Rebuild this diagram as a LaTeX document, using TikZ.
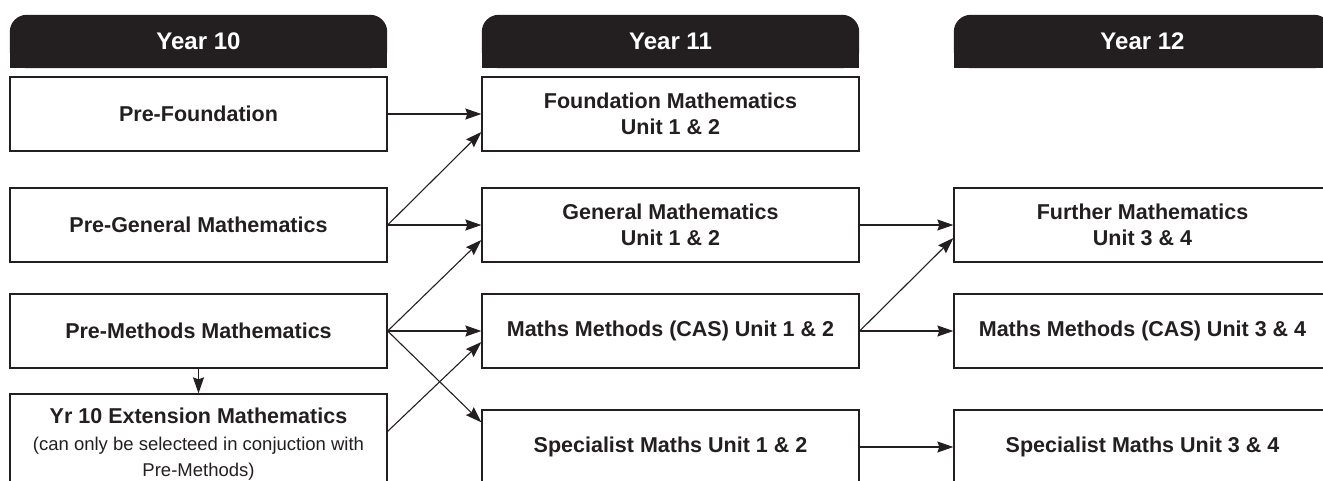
\documentclass[tikz,border=0pt]{standalone}
\usepackage{fontspec}
\setmainfont{Liberation Sans}
\usetikzlibrary{arrows.meta,backgrounds}
\definecolor{ink}{HTML}{231F20}
\newcommand{\notefont}{\fontsize{18.5}{22}\selectfont\mdseries}

\begin{document}
\begin{tikzpicture}[x=1pt,y=-1pt,
  course/.style={draw=ink,line width=1.3pt,minimum width=377pt,minimum height=74pt,
    align=center,font=\fontsize{21.5}{26}\selectfont\bfseries,text=ink,inner sep=0pt},
  yearhead/.style={minimum width=377pt,minimum height=53pt,inner sep=0pt,
    font=\fontsize{24}{28}\selectfont\bfseries,text=white},
  link/.style={draw=ink,line width=1.1pt,-{Stealth[length=16pt,width=11pt,inset=2pt]}}]
\useasboundingbox (0,0) rectangle (1323,480);
\clip (0,0) rectangle (1323,480);
% Column headings
\node[yearhead] (hd10) at (198.5,41.5) {Year 10};
\node[yearhead] (hd11) at (670.5,41.5) {Year 11};
\node[yearhead] (hd12) at (1142.5,41.5) {Year 12};
\begin{scope}[on background layer]
\foreach \h in {hd10,hd11,hd12} {
  \fill[ink,rounded corners=17pt] (\h.south west) rectangle (\h.north east);
  \fill[ink] (\h.south west) rectangle ([yshift=20pt]\h.south east);
}
\end{scope}
% Year 10
\node[course] (prefound) at (198.5,114) {Pre-Foundation};
\node[course] (pregen) at (198.5,225) {Pre-General Mathematics};
\node[course] (premeth) at (198.5,331) {Pre-Methods Mathematics};
\node[course,minimum height=100pt] (ext) at (198.5,444) {Yr 10 Extension Mathematics\\[1pt]
  \notefont (can only be selecteed in conjuction with\\\notefont Pre-Methods)};
% Year 11
\node[course] (found) at (670.5,114) {Foundation Mathematics\\Unit 1 \& 2};
\node[course] (gen) at (670.5,225) {General Mathematics\\Unit 1 \& 2};
\node[course] (meth11) at (670.5,331) {Maths Methods (CAS) Unit 1 \& 2};
\node[course] (spec11) at (670.5,447) {Specialist Maths Unit 1 \& 2};
% Year 12
\node[course] (further) at (1142.5,225) {Further Mathematics\\Unit 3 \& 4};
\node[course] (meth12) at (1142.5,331) {Maths Methods (CAS) Unit 3 \& 4};
\node[course] (spec12) at (1142.5,447) {Specialist Maths Unit 3 \& 4};

% Pathways
\draw[link] (prefound) -- (found);
\draw[link] (pregen.east) -- ([yshift=-18pt]found.west);
\draw[link] (pregen) -- (gen);
\draw[link] (premeth.east) -- ([yshift=-15pt]gen.west);
\draw[link] (premeth) -- (meth11);
\draw[link] (premeth.east) -- ([yshift=-13pt]spec11.north west);
\draw[link] (premeth) -- (ext);
\draw[link] ([yshift=-38pt]ext.north east) -- ([yshift=-11pt]meth11.west);
\draw[link] (gen) -- (further);
\draw[link] (meth11.east) -- ([yshift=-13pt]further.west);
\draw[link] (meth11) -- (meth12);
\draw[link] (spec11) -- (spec12);
\end{tikzpicture}
\end{document}
